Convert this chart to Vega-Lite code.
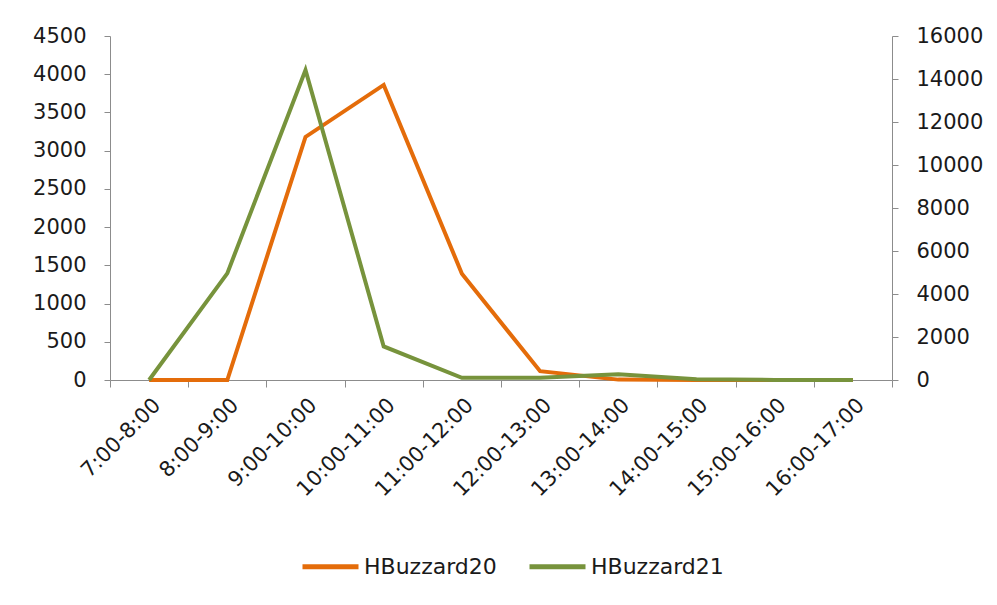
{
  "$schema": "https://vega.github.io/schema/vega-lite/v6.json",
  "width": 782,
  "height": 344,
  "autosize": "none",
  "padding": {"left": 110, "top": 36, "right": 105, "bottom": 225},
  "background": "white",
  "config": {
    "view": {"stroke": null},
    "font": "DejaVu Sans",
    "axis": {
      "grid": false,
      "domainColor": "#8c8c8c",
      "tickColor": "#8c8c8c",
      "domainWidth": 1,
      "tickWidth": 1,
      "tickSize": 6,
      "labelFont": "DejaVu Sans",
      "labelFontSize": 21,
      "labelColor": "#1a1a1a",
      "title": null
    }
  },
  "data": {
    "values": [
      {"time": "7:00-8:00", "series": "HBuzzard20", "value": 0},
      {"time": "8:00-9:00", "series": "HBuzzard20", "value": 0},
      {"time": "9:00-10:00", "series": "HBuzzard20", "value": 3180},
      {"time": "10:00-11:00", "series": "HBuzzard20", "value": 3860},
      {"time": "11:00-12:00", "series": "HBuzzard20", "value": 1390},
      {"time": "12:00-13:00", "series": "HBuzzard20", "value": 115},
      {"time": "13:00-14:00", "series": "HBuzzard20", "value": 5},
      {"time": "14:00-15:00", "series": "HBuzzard20", "value": 0},
      {"time": "15:00-16:00", "series": "HBuzzard20", "value": 0},
      {"time": "16:00-17:00", "series": "HBuzzard20", "value": 0},
      {"time": "7:00-8:00", "series": "HBuzzard21", "value": 0},
      {"time": "8:00-9:00", "series": "HBuzzard21", "value": 4960},
      {"time": "9:00-10:00", "series": "HBuzzard21", "value": 14420},
      {"time": "10:00-11:00", "series": "HBuzzard21", "value": 1560},
      {"time": "11:00-12:00", "series": "HBuzzard21", "value": 105},
      {"time": "12:00-13:00", "series": "HBuzzard21", "value": 105},
      {"time": "13:00-14:00", "series": "HBuzzard21", "value": 265},
      {"time": "14:00-15:00", "series": "HBuzzard21", "value": 40},
      {"time": "15:00-16:00", "series": "HBuzzard21", "value": 5},
      {"time": "16:00-17:00", "series": "HBuzzard21", "value": 0}
    ]
  },
  "encoding": {
    "x": {
      "field": "time",
      "type": "ordinal",
      "sort": null,
      "scale": {"type": "band", "paddingInner": 0, "paddingOuter": 0},
      "axis": {
        "labelAngle": -45,
        "labelAlign": "right",
        "labelBaseline": "top",
        "labelPadding": 7,
        "tickBand": "extent",
        "tickSize": 7,
        "labelFontSize": 21
      }
    },
    "color": {
      "field": "series",
      "type": "nominal",
      "scale": {"domain": ["HBuzzard20", "HBuzzard21"], "range": ["#e46c0a", "#77933c"]},
      "legend": {
        "title": null,
        "orient": "none",
        "direction": "horizontal",
        "legendX": 190,
        "legendY": 500,
        "symbolType": "stroke",
        "symbolSize": 3136,
        "symbolStrokeWidth": 5,
        "labelFont": "DejaVu Sans",
        "labelFontSize": 22,
        "labelColor": "#1a1a1a",
        "labelOffset": 3,
        "columnPadding": 22,
        "labelLimit": 300
      }
    }
  },
  "layer": [
    {
      "transform": [{"filter": "datum.series === 'HBuzzard20'"}],
      "mark": {"type": "line", "strokeWidth": 4, "strokeJoin": "miter"},
      "encoding": {
        "y": {
          "field": "value",
          "type": "quantitative",
          "scale": {"domain": [0, 4500], "nice": false},
          "axis": {"orient": "left", "format": "d", "values": [0, 500, 1000, 1500, 2000, 2500, 3000, 3500, 4000, 4500], "labelPadding": 18, "tickSize": 6}
        }
      }
    },
    {
      "transform": [{"filter": "datum.series === 'HBuzzard21'"}],
      "mark": {"type": "line", "strokeWidth": 4, "strokeJoin": "miter"},
      "encoding": {
        "y": {
          "field": "value",
          "type": "quantitative",
          "scale": {"domain": [0, 16000], "nice": false},
          "axis": {"orient": "right", "format": "d", "values": [0, 2000, 4000, 6000, 8000, 10000, 12000, 14000, 16000], "labelPadding": 18, "tickSize": 6}
        }
      }
    }
  ],
  "resolve": {"scale": {"y": "independent"}}
}
